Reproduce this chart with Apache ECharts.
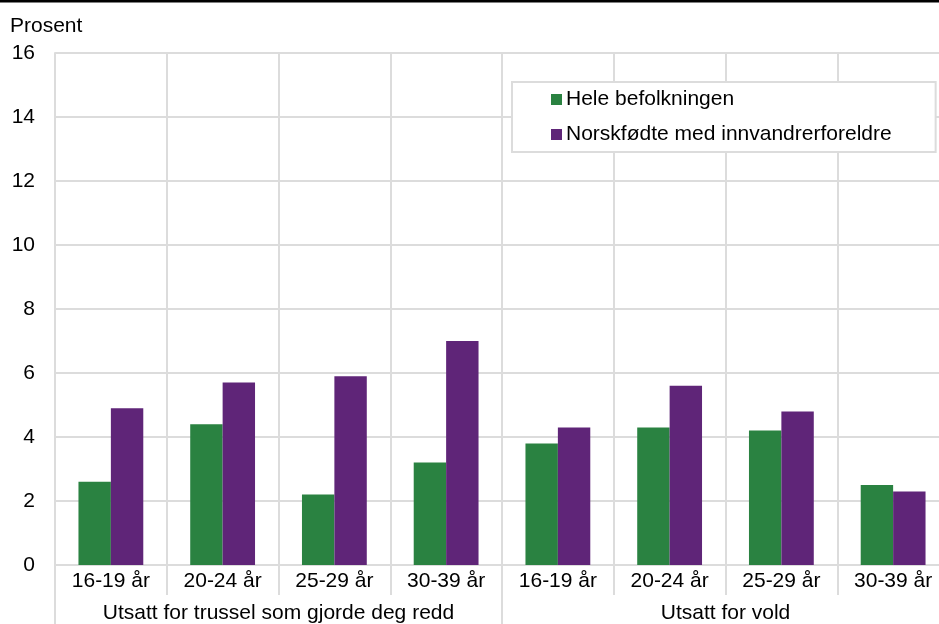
<!DOCTYPE html>
<html><head><meta charset="utf-8">
<script src="https://cdn.jsdelivr.net/npm/echarts@6/dist/echarts.min.js"></script>
<style>html,body{margin:0;padding:0;background:#fff;overflow:hidden;width:939px;height:624px}#c{width:949px;height:624px}</style>
</head><body><div id="c"></div>
<script>
const categories = ['16-19 år','20-24 år','25-29 år','30-39 år','16-19 år','20-24 år','25-29 år','30-39 år'];
const groups = ['Utsatt for trussel som gjorde deg redd','Utsatt for vold'];
const seriesNames = ['Hele befolkningen','Norskfødte med innvandrerforeldre'];
const heleBefolkningen = [2.6, 4.4, 2.2, 3.2, 3.8, 4.3, 4.2, 2.5];
const norskfodte = [4.9, 5.7, 5.9, 7.0, 4.3, 5.6, 4.8, 2.3];
const yTicks = {min: 0, max: 16, interval: 2};

const FONT = '"Liberation Sans", Arial, sans-serif';
const FS = 21;
const GRID = '#dcdcdc';
const chart = echarts.init(document.getElementById('c'), null, {renderer: 'canvas'});
chart.setOption({
  backgroundColor: '#fff',
  animation: false,
  textStyle: {fontFamily: FONT},
  graphic: [
    {type: 'rect', left: 0, top: 0, shape: {width: 949, height: 2.5}, style: {fill: '#000'}},
    {type: 'text', left: 10, top: 16, style: {text: 'Prosent', font: FS + 'px ' + FONT, fill: '#000'}}
  ],
  grid: {left: 55, right: 0, top: 53, bottom: 59, outerBoundsMode: 'none', containLabel: false},
  legend: {
    orient: 'vertical', left: 512, top: 82,
    data: seriesNames,
    itemWidth: 11, itemHeight: 11, itemGap: 14,
    padding: [7, 44, 7, 39],
    borderColor: GRID, borderWidth: 2, backgroundColor: '#fff',
    icon: 'rect',
    textStyle: {fontSize: FS, color: '#000', fontFamily: FONT, padding: [0, 0, 0, -1]}
  },
  xAxis: [
    {
      type: 'category', data: categories, position: 'bottom',
      axisLine: {lineStyle: {color: GRID, width: 2}},
      axisTick: {show: true, length: 30, lineStyle: {color: GRID, width: 2}},
      axisLabel: {fontSize: FS, color: '#000', margin: 6, interval: 0, fontFamily: FONT},
      splitLine: {show: true, interval: 0, lineStyle: {color: GRID, width: 2}}
    },
    {
      type: 'category', data: groups, position: 'bottom',
      axisLine: {show: false},
      axisTick: {show: true, length: 59, lineStyle: {color: GRID, width: 2}},
      axisLabel: {fontSize: FS, color: '#000', margin: 38, interval: 0, fontFamily: FONT},
      splitLine: {show: false}
    }
  ],
  yAxis: {
    type: 'value', min: yTicks.min, max: yTicks.max, interval: yTicks.interval,
    axisLine: {show: true, lineStyle: {color: GRID, width: 2}},
    axisTick: {show: false},
    axisLabel: {fontSize: FS, color: '#000', margin: 20, fontFamily: FONT},
    splitLine: {lineStyle: {color: GRID, width: 2}}
  },
  series: [
    {name: seriesNames[0], type: 'bar', xAxisIndex: 0, data: heleBefolkningen, barGap: '0%', barCategoryGap: '42%', itemStyle: {color: '#2A8241'}},
    {name: seriesNames[1], type: 'bar', xAxisIndex: 0, data: norskfodte, barGap: '0%', barCategoryGap: '42%', itemStyle: {color: '#5F2578'}}
  ]
});
</script></body></html>
